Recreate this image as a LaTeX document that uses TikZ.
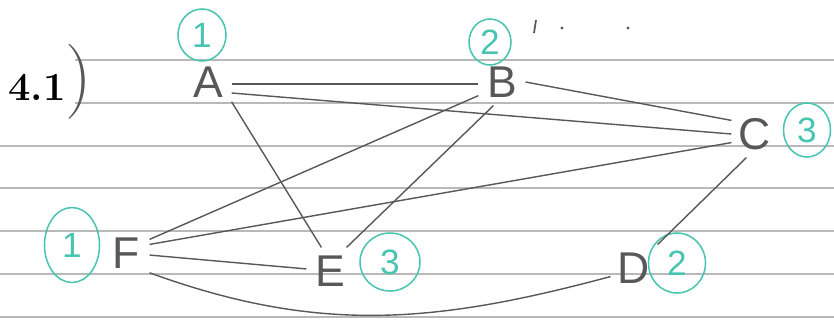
\documentclass[tikz,border=0pt]{standalone}
\usepackage{fontspec}
\setsansfont{Liberation Sans}
\usepackage{tikz}
\usetikzlibrary{positioning,shapes.geometric}
\definecolor{pencil}{RGB}{88,88,88}
\definecolor{grader}{RGB}{72,196,176}
\definecolor{ruling}{RGB}{185,185,185}
\tikzset{
  vertex/.style={font=\sffamily\fontsize{38}{38}\selectfont, text=pencil,
    minimum width=1.4cm, minimum height=1.4cm, inner sep=0pt},
  colnum/.style={ellipse, draw=grader, line width=1.3pt, text=grader,
    font=\sffamily\fontsize{30}{30}\selectfont, inner sep=0pt},
  graphedge/.style={pencil, line width=1.2pt},
  ruleline/.style={ruling, line width=0.9pt},
}

\begin{document}
\begin{tikzpicture}[x=0.03cm, y=-0.03cm]
  \useasboundingbox (0,0) rectangle (834,322);
  % ruled paper
  \foreach \y in {60,103} \draw[ruleline] (75,\y) -- (834,\y);
  \foreach \y in {146,188,231,274,317} \draw[ruleline] (0,\y) -- (834,\y);
  \fill[pencil] (562,28) circle (1.3pt) (628,28) circle (1.3pt);
  \draw[pencil, line width=1.5pt] (536,20) -- (534,33);
  \node[anchor=base west, inner sep=0pt] (task) at (8,100) {\fontsize{34}{34}\selectfont\textbf{4.1}{\fontsize{64}{64}\selectfont\color{pencil})}};
  % vertices
  \node[vertex] (A) at (208,82) {A};
  \node[vertex] (B) at (502,82) {B};
  \node[vertex] (C) at (755,134) {C};
  \node[vertex] (D) at (634,268) {D};
  \node[vertex] (E) at (330,271) {E};
  \node[vertex] (F) at (126,253) {F};
  % colours
  \node[colnum, minimum width=1.44cm, minimum height=1.56cm] (cA) at (202,35) {1};
  \node[colnum, minimum width=1.26cm, minimum height=1.38cm] (cB) at (490,42) {2};
  \node[colnum, minimum width=1.41cm, minimum height=1.62cm] (cC) at (807,130) {3};
  \node[colnum, minimum width=1.71cm, minimum height=1.80cm] (cD) at (677,263) {2};
  \node[colnum, minimum width=1.80cm, minimum height=1.74cm] (cE) at (390,262) {3};
  \node[colnum, minimum width=1.65cm, minimum height=2.25cm] (cF) at (72,245) {1};
  % edges
  \foreach \a/\b in {A.-5/B.185, A.-25/C.west, A.-40/E.110, B.east/C.150,
    B.210/F.30, B.250/E.55, C.200/F.20, C.250/D.45, F.-5/E.175}
    \draw[graphedge] (\a) -- (\b);
  \draw[graphedge] (F.-40) to[out=-20, in=195] (D.200);
\end{tikzpicture}
\end{document}
